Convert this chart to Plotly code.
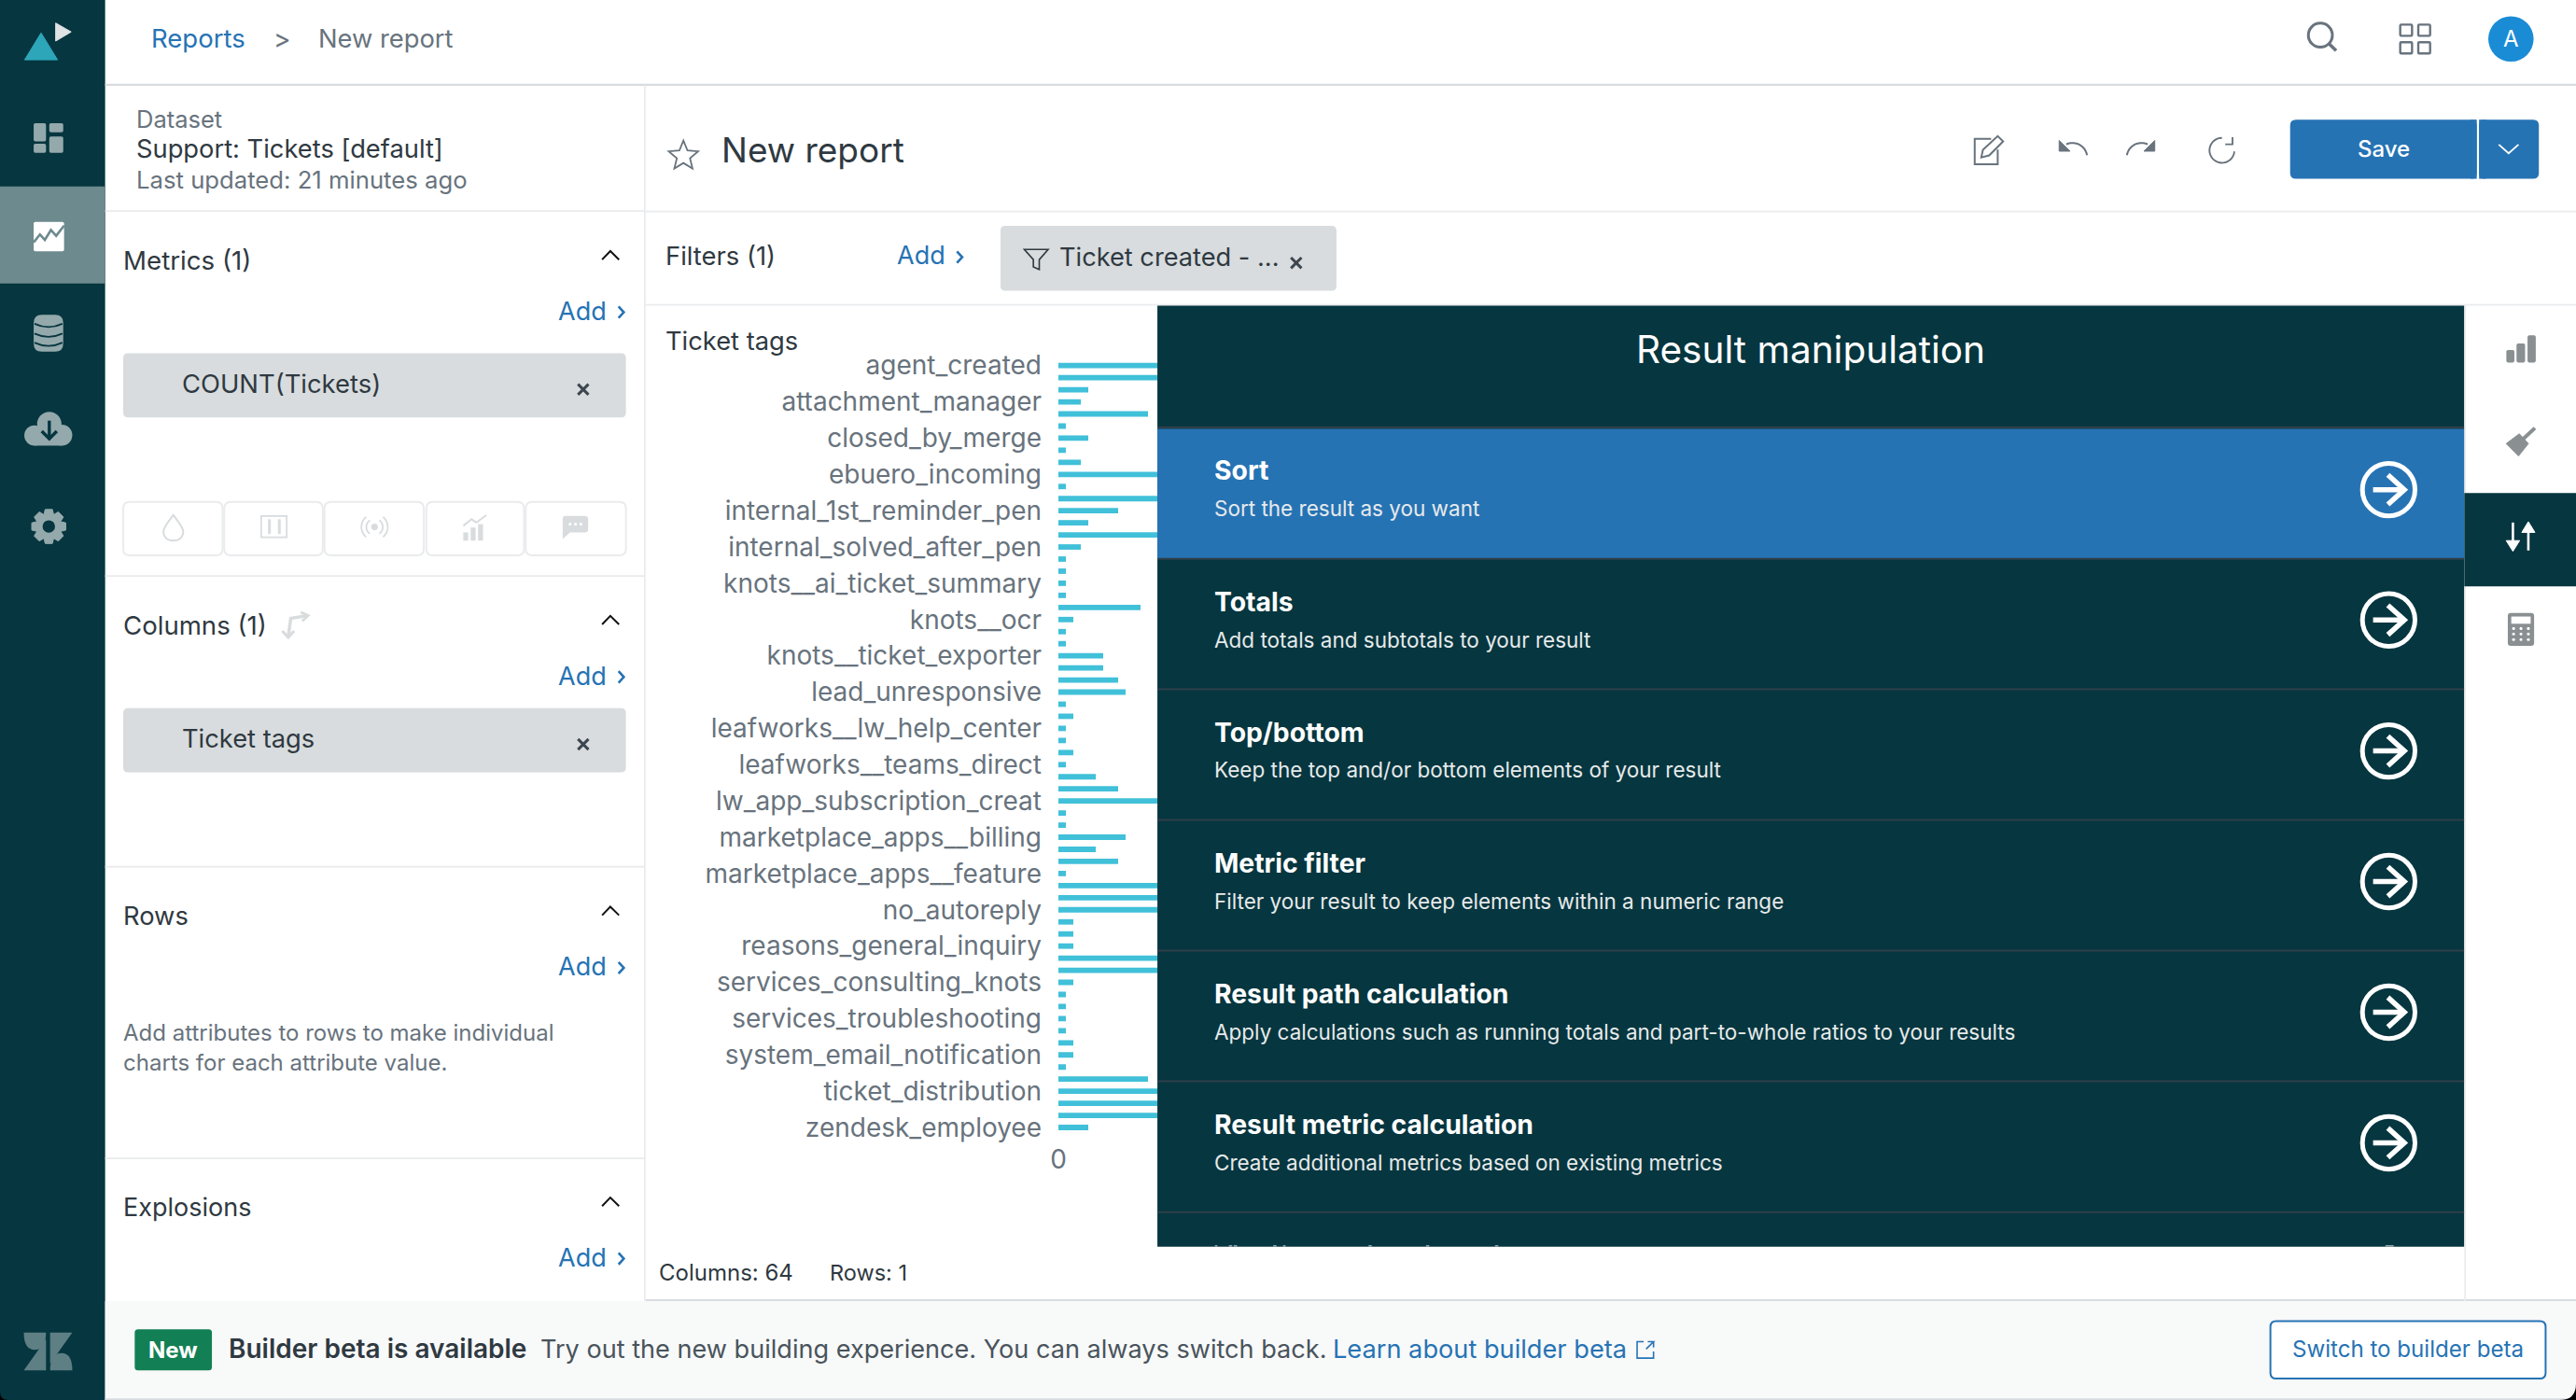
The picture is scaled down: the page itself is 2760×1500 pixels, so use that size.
import math
import plotly.graph_objects as go

# ---------- chart data ----------
tick_labels = ["agent_created", "attachment_manager", "closed_by_merge", "ebuero_incoming",
               "internal_1st_reminder_pen", "internal_solved_after_pen", "knots__ai_ticket_summary",
               "knots__ocr", "knots__ticket_exporter", "lead_unresponsive", "leafworks__lw_help_center",
               "leafworks__teams_direct", "lw_app_subscription_creat", "marketplace_apps__billing",
               "marketplace_apps__feature", "no_autoreply", "reasons_general_inquiry",
               "services_consulting_knots", "services_troubleshooting", "system_email_notification",
               "ticket_distribution", "zendesk_employee"]
tick_positions = [0, 3, 6, 9, 12, 15, 18, 21, 24, 27, 30, 33, 36, 39, 42, 45, 48, 51, 54, 57, 60, 63]
bar_positions = list(range(64))
ticket_counts = [32, 28, 4, 3, 12, 1, 4, 1, 3, 22, 1, 30, 8, 4, 18, 3, 1, 1, 1, 1, 11, 2, 1, 1, 6, 6, 8, 9, 1, 2, 1, 1,
                 2, 1, 5, 8, 24, 1, 1, 9, 5, 8, 1, 36, 20, 16, 2, 2, 2, 40, 26, 2, 1, 1, 1, 1, 2, 2, 1, 12, 19, 34, 15, 4]

# ---------- palette ----------
DARK = "#06363f"; BLUE = "#2673b4"; CHIP = "#d8dcde"; LINE = "#e9ebed"; LINE2 = "#d8dce0"
TXT = "#2f3941"; GREY = "#68737d"; SIDE = "#94a9ac"; WHITE = "#ffffff"; SEP = "#2f3f4a"; RAIL = "#8a8f92"
FONT = "Inter"

shapes = []
annots = []


def P(path, fill=None, line=None, w=0, layer="above"):
    d = dict(type="path", path=path, xref="x2", yref="y2", layer=layer, line=dict(width=w, color=line or "rgba(0,0,0,0)"))
    d["fillcolor"] = fill if fill else "rgba(0,0,0,0)"
    shapes.append(d)


def R(x0, y0, x1, y1, fill=None, line=None, w=0, r=0):
    if r:
        p = (f"M{x0+r},{y0} L{x1-r},{y0} Q{x1},{y0} {x1},{y0+r} L{x1},{y1-r} Q{x1},{y1} {x1-r},{y1} "
             f"L{x0+r},{y1} Q{x0},{y1} {x0},{y1-r} L{x0},{y0+r} Q{x0},{y0} {x0+r},{y0} Z")
    else:
        p = f"M{x0},{y0} L{x1},{y0} L{x1},{y1} L{x0},{y1} Z"
    P(p, fill, line, w)


def C(cx, cy, r, fill=None, line=None, w=0):
    shapes.append(dict(type="circle", xref="x2", yref="y2", x0=cx-r, x1=cx+r, y0=cy-r, y1=cy+r, layer="above",
                       fillcolor=fill or "rgba(0,0,0,0)", line=dict(width=w, color=line or "rgba(0,0,0,0)")))


def L(points, line, w=2, close=False, fill=None):
    s = "M" + " L".join(f"{x:.2f},{y:.2f}" for x, y in points) + (" Z" if close else "")
    P(s, fill, line, w)


def arc(cx, cy, r, a0, a1, n=24):
    return [(cx + r*math.cos(math.radians(a0 + (a1-a0)*i/n)), cy + r*math.sin(math.radians(a0 + (a1-a0)*i/n))) for i in range(n+1)]


def T(x, y, text, size=28, color=TXT, anchor="left", weight=400):
    annots.append(dict(x=x, y=y, xref="x2", yref="y2", text=text, showarrow=False, xanchor=anchor, yanchor="middle",
                       borderpad=0, borderwidth=0, xshift=0, yshift=1,
                       font=dict(family=FONT, size=size, color=color, weight=weight), align=anchor))


def add_link(xr, y):
    T(340, y, "Add", 27, BLUE)
    L([(376.5, y-3.5), (379.7, y), (376.5, y+3.5)], BLUE, 2.6)


def chevron_up(y):
    L([(366.5, y+3), (371.5, y-2.2), (376.8, y+3)], "#111111", 2)


def cross(x, y, col="#3c4650"):
    L([(x-3.2, y-3.2), (x+3.2, y+3.2)], col, 3)
    L([(x-3.2, y+3.2), (x+3.2, y-3.2)], col, 3)


# ---------- page background ----------
R(0, 0, 64, 852, DARK)
R(0, 113.5, 64, 172.5, "#6d8a8e")

# top bar
R(64, 51, 1568, 52.2, LINE2)
T(92, 24, "Reports", 27.5, BLUE)
T(172, 24.5, "&gt;", 28, GREY, "center")
T(194, 24, "New report", 27.3, GREY)
C(1412.4, 21.4, 7.3, None, GREY, 3)
L([(1417.7, 26.7), (1422, 30.8)], GREY, 3.5)
for gx, gy in [(1461, 15), (1472, 15), (1461, 25.7), (1472, 25.7)]:
    R(gx, gy, gx+7.2, gy+6.8, None, GREY, 2.4, r=0.6)
C(1528.4, 23.7, 13.8, "#1a8cd6")
T(1528.4, 24, "A", 24, WHITE, "center")

# structural lines
R(392, 52, 393, 792, LINE)
R(64, 128, 392, 129, LINE)
R(393, 128.2, 1568, 129.2, LINE)
R(393, 185, 1568, 186, LINE)
R(64, 350, 392, 351, LINE)
R(64, 527, 392, 528, LINE)
R(64, 704.5, 392, 705.5, LINE)

# dataset block
T(83, 73, "Dataset", 25.5, GREY)
T(83, 91, "Support: Tickets [default]", 27.3, TXT)
T(83, 110, "Last updated: 21 minutes ago", 25.7, GREY)

# title row
star = []
for i in range(10):
    rad = 9.4 if i % 2 == 0 else 4.2
    a = math.radians(-90 + 36*i)
    star.append((416 + rad*math.cos(a), 95 + rad*math.sin(a)))
L(star, GREY, 1.8, close=True)
T(439, 92, "New report", 37, TXT)
L([(1212, 84.5), (1202, 84.5), (1202, 100), (1216, 100), (1216, 91)], GREY, 2)
L([(1206, 95.8), (1207, 91.2), (1216, 82.8), (1219.3, 86), (1210.8, 94.6)], GREY, 2, close=True)
L(arc(1261.5, 96, 9, 350, 245), GREY, 2)
L([(1253.4, 85.5), (1253.4, 92), (1260, 92)], GREY, 1, close=True, fill=GREY)
L(arc(1303.5, 96, 9, 190, 295), GREY, 2)
L([(1311.6, 85.5), (1311.6, 92), (1305, 92)], GREY, 1, close=True, fill=GREY)
L(arc(1352.5, 91.5, 7.6, 5, 270), GREY, 1.9)
L([(1358.9, 83.5), (1358.9, 87.8), (1354.5, 87.8)], GREY, 1.9)
R(1394, 72.8, 1507.6, 108.8, BLUE, r=3.5)
R(1509, 72.8, 1545.4, 108.8, BLUE, r=3.5)
R(1504, 72.8, 1507.6, 108.8, BLUE)
R(1509, 72.8, 1513, 108.8, BLUE)
T(1451, 91, "Save", 24, WHITE, "center", 500)
L([(1521, 88), (1527, 93.3), (1533, 88)], WHITE, 1.8)

# filters
T(405, 156, "Filters (1)", 27.4, TXT)
T(546, 156, "Add", 27, BLUE)
L([(582.5, 153), (585.7, 156.5), (582.5, 160)], BLUE, 2.6)
R(609, 137.5, 813.5, 177, CHIP, r=3)
L([(623.5, 151.8), (638, 151.8), (632.6, 158), (632.6, 164), (629, 162.5), (629, 158)], TXT, 1.6, close=True)
T(645, 157, "Ticket created - ...", 27.2, TXT)
cross(789, 160)

# left panels
T(75, 159, "Metrics (1)", 27.7, TXT)
chevron_up(155)
add_link(381, 190)
R(75, 215, 381, 254, CHIP, r=3)
T(111, 234, "COUNT(Tickets)", 27.4, TXT)
cross(355, 237)
for a, b in [(75, 135.5), (136.5, 196.5), (197.5, 258), (259.5, 319), (320, 381)]:
    R(a, 305.5, b, 338, None, LINE, 2, r=4)
P("M105.5,313.5 C102,318 99.5,321 99.5,323.5 C99.5,327 102,329 105.5,329 C109,329 111.5,327 111.5,323.5 C111.5,321 109,318 105.5,313.5 Z", None, CHIP, 2)
R(159, 314, 174.5, 327, None, CHIP, 1.8)
L([(164, 316), (164, 325)], CHIP, 3)
L([(170, 316), (170, 325)], CHIP, 3)
C(228, 320.7, 2, CHIP)
L(arc(228, 320.7, 5, 125, 235), CHIP, 1.8)
L(arc(228, 320.7, 5, -55, 55), CHIP, 1.8)
L(arc(228, 320.7, 8, 130, 230), CHIP, 1.8)
L(arc(228, 320.7, 8, -50, 50), CHIP, 1.8)
R(282, 324, 285, 329, CHIP); R(286.5, 321, 289.5, 329, CHIP); R(291, 319, 294, 329, CHIP)
L([(282, 320), (287, 316), (290, 318), (296, 313.5)], CHIP, 2)
P("M344,314 L356,314 Q358,314 358,316 L358,322 Q358,324 356,324 L347,324 L342.5,328 L342.5,316 Q342.5,314 344,314 Z", CHIP)
for dx in (347, 350.3, 353.6):
    C(dx, 319, 0.9, WHITE)

T(75, 381, "Columns (1)", 27.6, TXT)
L([(186, 374.8), (177, 376.3), (175.5, 387)], CHIP, 3.5)
L([(183, 372.5), (187.5, 374.6), (184, 378)], CHIP, 3)
L([(171.8, 384), (175.5, 388), (179, 384)], CHIP, 3)
chevron_up(377)
add_link(381, 412)
R(75, 431, 381, 470, CHIP, r=3)
T(111, 450, "Ticket tags", 27.3, TXT)
cross(355, 453)

T(75, 558, "Rows", 27.3, TXT)
chevron_up(554)
add_link(381, 589)
T(75, 629, "Add attributes to rows to make individual", 24, GREY)
T(75, 647, "charts for each attribute value.", 24, GREY)

T(75, 735, "Explosions", 27, TXT)
chevron_up(731)
add_link(381, 766)

# chart footer
T(405, 208, "Ticket tags", 27.3, TXT)
T(401, 775, "Columns: 64", 24, TXT)
T(505, 775, "Rows: 1", 23.5, TXT)
R(393, 790.6, 1568, 791.8, LINE2)

# result manipulation panel
R(704.5, 186, 1500, 758.7, DARK)
R(704.5, 261, 1500, 340, BLUE)
T(1102, 213.5, "Result manipulation", 40.5, WHITE, "center")
rows = [("Sort", "Sort the result as you want", 287, 310, 298),
        ("Totals", "Add totals and subtotals to your result", 367, 390, 377.3),
        ("Top/bottom", "Keep the top and/or bottom elements of your result", 446.5, 469, 457),
        ("Metric filter", "Filter your result to keep elements within a numeric range", 526, 549, 536.5),
        ("Result path calculation", "Apply calculations such as running totals and part-to-whole ratios to your results", 605.5, 628.5, 616),
        ("Result metric calculation", "Create additional metrics based on existing metrics", 685, 708, 695.5)]
for title, sub, ty, sy, cy in rows:
    T(739, ty, title, 28.3, WHITE, "left", 700)
    T(739, sy, sub, 22.5, "#e6eaeb")
    C(1454, cy, 16, None, WHITE, 5)
    L([(1444.5, cy), (1463, cy)], WHITE, 5.5)
    L([(1453.5, cy-9), (1463.5, cy), (1453.5, cy+9)], WHITE, 5.5)
for y in [260, 340, 419.4, 498.9, 578.4, 657.9, 737.6]:
    R(704.5, y-0.5, 1500, y+0.7, SEP)
for a, b in [(739.5, 741), (748, 750), (751, 753), (775, 777), (781, 782.5), (833, 835), (868, 870), (910, 912), (1452, 1457)]:
    R(a, 757.7, b, 758.7, "#8ea3a7")

# right rail
R(1500, 186, 1501, 792, LINE)
R(1525.6, 213, 1530.5, 220.6, RAIL, r=1); R(1531.8, 209, 1537, 220.6, RAIL, r=1); R(1538.5, 204, 1543.5, 220.6, RAIL, r=1)
L([(1543, 260.5), (1536, 267)], RAIL, 4)
L([(1533.5, 264), (1539, 270), (1533, 277.5), (1525.5, 270)], RAIL, 1, close=True, fill=RAIL)
R(1500, 300, 1568, 356.8, DARK)
L([(1529.6, 318), (1529.6, 334)], WHITE, 2.6)
L([(1525.5, 329), (1529.6, 335.5), (1533.7, 329)], WHITE, 1, close=True, fill=WHITE)
L([(1539, 323), (1539, 335)], WHITE, 2.6)
L([(1535, 324), (1539, 317.5), (1543, 324)], WHITE, 1, close=True, fill=WHITE)
R(1526.5, 373, 1542.5, 393, RAIL, r=1.8)
R(1528.6, 375.2, 1540.4, 379.6, WHITE)
for yy in (382.5, 385.8, 389.2):
    for xx in (1530, 1534.5, 1539):
        C(xx, yy, 0.9, WHITE)

# bottom banner
R(64, 791.8, 1568, 852, "#f8f9f9")
R(64, 851, 1568, 852, LINE2)
R(82, 809, 129, 834, "#128054", r=2)
T(105.5, 822, "New", 24, WHITE, "center", 700)
T(139, 821.5, "Builder beta is available", 28, "#2f3941", "left", 600)
T(329, 821.5, "Try out the new building experience. You can always switch back.", 27.1, "#49545c")
T(811, 821.5, "Learn about builder beta", 27.2, BLUE)
L([(1000.5, 816.5), (996.5, 816.5), (996.5, 826.5), (1006.5, 826.5), (1006.5, 822.5)], BLUE, 1.6)
L([(1002, 821), (1006.5, 816.5), (1003, 816.5), (1006.5, 816.5), (1006.5, 820)], BLUE, 1.6)
R(1382, 804, 1549.5, 839, WHITE, BLUE, 2, r=3.5)
T(1466, 821.5, "Switch to builder beta", 24.1, BLUE, "center")

# sidebar icons
L([(25, 20), (35, 36.4), (15, 36.4)], "#2ea6ba", 1, close=True, fill="#2ea6ba")
L([(33.9, 14), (43.3, 19.4), (33.9, 25)], "#dfe3e5", 1, close=True, fill="#dfe3e5")
R(20.5, 75, 28, 86, SIDE, r=1); R(20.5, 87.5, 28, 93, SIDE, r=1); R(30, 75, 38.5, 80.5, SIDE, r=1); R(30, 83, 38.5, 93, SIDE, r=1)
R(20.5, 135, 39, 153, WHITE, r=1)
L([(20.5, 147.5), (24.3, 142.7), (27.3, 146), (31, 140), (34.2, 143.5), (39, 137.3)], "#6d8a8e", 2.6)
R(20.5, 191.5, 38.5, 214, SIDE, r=5)
for yy in (197, 203, 208.5):
    P(f"M21,{yy} Q29.5,{yy+4} 38,{yy}", None, DARK, 1.8)
C(30, 258, 7.4, SIDE); C(21, 265, 6.2, SIDE); C(37.6, 264.8, 6.4, SIDE)
R(21, 263, 37.6, 271.2, SIDE)
L([(30, 256), (30, 267)], DARK, 3.4)
L([(25.4, 262.4), (30, 267), (34.6, 262.4)], DARK, 3.4)
gear = []
for i in range(8):
    base = i*45
    for a, r in [(-24, 7.5), (-12, 10.6), (12, 10.6), (24, 7.5)]:
        gear.append((29.7 + r*math.cos(math.radians(base+a)), 320.4 + r*math.sin(math.radians(base+a))))
L(gear, SIDE, 1, close=True, fill=SIDE)
C(29.7, 320.4, 3.8, DARK)
ZL = "#5e7f84"
P("M14.5,811 L28,811 Q28,821.5 21.2,821.5 Q14.5,821.5 14.5,811 Z", ZL)
P("M14.5,834 L28,815 L28,834 Z", ZL)
P("M30.5,811 L44,811 L30.5,830 Z", ZL)
P("M30.5,834 Q30.5,823.5 37.5,823.5 Q44,823.5 44,834 Z", ZL)
# rounded window corners
P("M1568,842 Q1568,852 1558,852 L1568,852 Z", "#000000")
P("M0,847 Q0,852 5,852 L0,852 Z", "#000000")

# ---------- figure ----------
fig = go.Figure()
fig.add_trace(go.Bar(x=ticket_counts, y=bar_positions, orientation="h", marker=dict(color="#41c0d9", line=dict(width=0)),
                     width=0.45, hoverinfo="skip", showlegend=False))
fig.add_trace(go.Scatter(x=[None], y=[None], xaxis="x2", yaxis="y2", showlegend=False, hoverinfo="skip"))

PLOT_L, PLOT_R, PLOT_T, PLOT_B = 1134, 2640, 385.2, 1214.5
fig.update_layout(
    width=2760, height=1500, margin=dict(l=0, r=0, t=0, b=0, pad=0), autosize=False,
    paper_bgcolor=WHITE, plot_bgcolor="rgba(0,0,0,0)", showlegend=False,
    font=dict(family=FONT, color=GREY),
    xaxis=dict(domain=[PLOT_L/2760, PLOT_R/2760], range=[0, (PLOT_R-PLOT_L)/8], tickmode="array", tickvals=[0], ticktext=["0"],
               showgrid=False, zeroline=False, showline=False, ticks="", ticklabelstandoff=8,
               tickfont=dict(size=28, color=GREY, family=FONT), anchor="y", automargin=False),
    yaxis=dict(domain=[1-PLOT_B/1500, 1-PLOT_T/1500], range=[63.5, -0.5], tickmode="array", tickvals=tick_positions, ticktext=tick_labels,
               showgrid=False, zeroline=False, showline=False, ticks="", ticklabelstandoff=17,
               tickfont=dict(size=28, color=GREY, family=FONT), anchor="x", automargin=False),
    xaxis2=dict(domain=[0, 1], range=[0, 1568], visible=False, anchor="y2", fixedrange=True),
    yaxis2=dict(domain=[0, 1], range=[852, 0], visible=False, anchor="x2", fixedrange=True),
    shapes=shapes, annotations=annots, bargap=0.55,
)
fig.write_html("out.html", config=dict(displayModeBar=False), post_script="document.body.style.margin='0';document.documentElement.style.overflow='hidden';")
